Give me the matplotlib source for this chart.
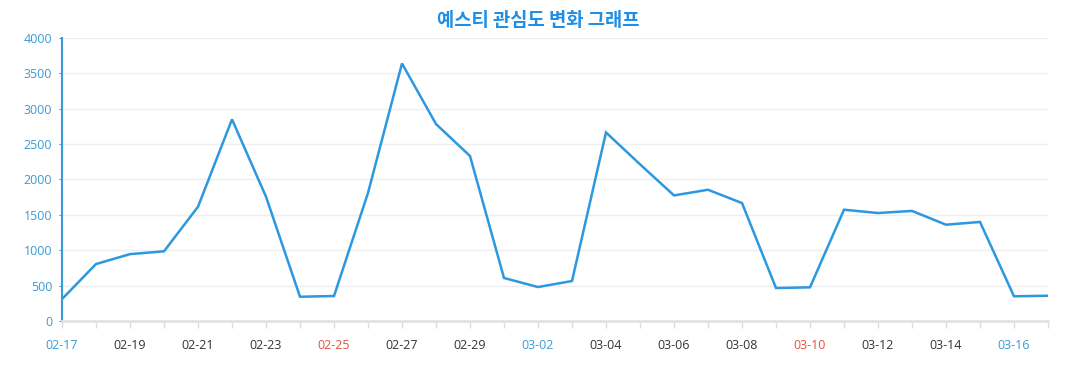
import matplotlib
matplotlib.use("Agg")
import matplotlib.pyplot as plt
import numpy as np

# -----------------------------------------------------------------------------
# Data
# -----------------------------------------------------------------------------
DATES = ["02-17", "02-18", "02-19", "02-20", "02-21", "02-22", "02-23", "02-24",
         "02-25", "02-26", "02-27", "02-28", "02-29", "03-01", "03-02", "03-03",
         "03-04", "03-05", "03-06", "03-07", "03-08", "03-09", "03-10", "03-11",
         "03-12", "03-13", "03-14", "03-15", "03-16", "03-17"]
VALUES = [310, 805, 945, 985, 1615, 2850, 1757, 343,
          353, 1810, 3640, 2784, 2332, 608, 480, 565,
          2665, 2215, 1775, 1855, 1667, 466, 476, 1573,
          1526, 1556, 1361, 1400, 349, 357]
Y_TICKS = [0, 500, 1000, 1500, 2000, 2500, 3000, 3500, 4000]
SATURDAYS = {"02-17", "03-02", "03-16"}
SUNDAYS = {"02-25", "03-10"}

TITLE = "예스티 관심도 변화 그래프"

# Colours
LINE_BLUE = "#2b98e0"
AXIS_BLUE = "#3a9bd5"
TITLE_BLUE = "#1f8fe6"
SAT_BLUE = "#3a9bd5"
SUN_RED = "#e0533a"
GRID_GREY = "#eeeeee"

plt.rcParams["font.family"] = ["Open Sans", "Noto Sans CJK KR", "DejaVu Sans"]

fig = plt.figure(figsize=(10.77, 3.9), dpi=100)
ax = fig.add_axes([62 / 1077, 1 - 321 / 390, (1048 - 62) / 1077, (321 - 38) / 390])

x = np.arange(len(DATES))
ax.plot(x, VALUES, color=LINE_BLUE, linewidth=1.8, solid_joinstyle="miter")

ax.set_xlim(0, len(DATES) - 1)
ax.set_ylim(0, 4000)

# y axis
ax.set_yticks(Y_TICKS)
ax.set_yticklabels([str(v) for v in Y_TICKS], color=AXIS_BLUE, fontsize=9)
ax.tick_params(axis="y", length=2, color=AXIS_BLUE, pad=5)
ax.grid(axis="y", color=GRID_GREY, linewidth=1)
ax.set_axisbelow(True)

# x axis: tick every day, label every 2 days
ax.set_xticks(x)
labels = [d if i % 2 == 0 else "" for i, d in enumerate(DATES)]
ax.set_xticklabels(labels, fontsize=9)
for lbl, d in zip(ax.get_xticklabels(), DATES):
    if d in SATURDAYS:
        lbl.set_color(SAT_BLUE)
    elif d in SUNDAYS:
        lbl.set_color(SUN_RED)
    else:
        lbl.set_color("#333333")
ax.tick_params(axis="x", length=5, color="#dddddd", width=1, pad=8)

for side in ("top", "right"):
    ax.spines[side].set_visible(False)
ax.spines["left"].set_color(AXIS_BLUE)
ax.spines["left"].set_linewidth(1.5)
ax.spines["bottom"].set_color("#e3e3e3")
ax.spines["bottom"].set_linewidth(2)

fig.text(0.5, 1 - 20 / 390, TITLE, ha="center", va="center", fontsize=13.5,
         fontweight="bold", color=TITLE_BLUE, family=["Noto Sans CJK KR", "DejaVu Sans"])

fig.savefig("out.png", dpi=100)
